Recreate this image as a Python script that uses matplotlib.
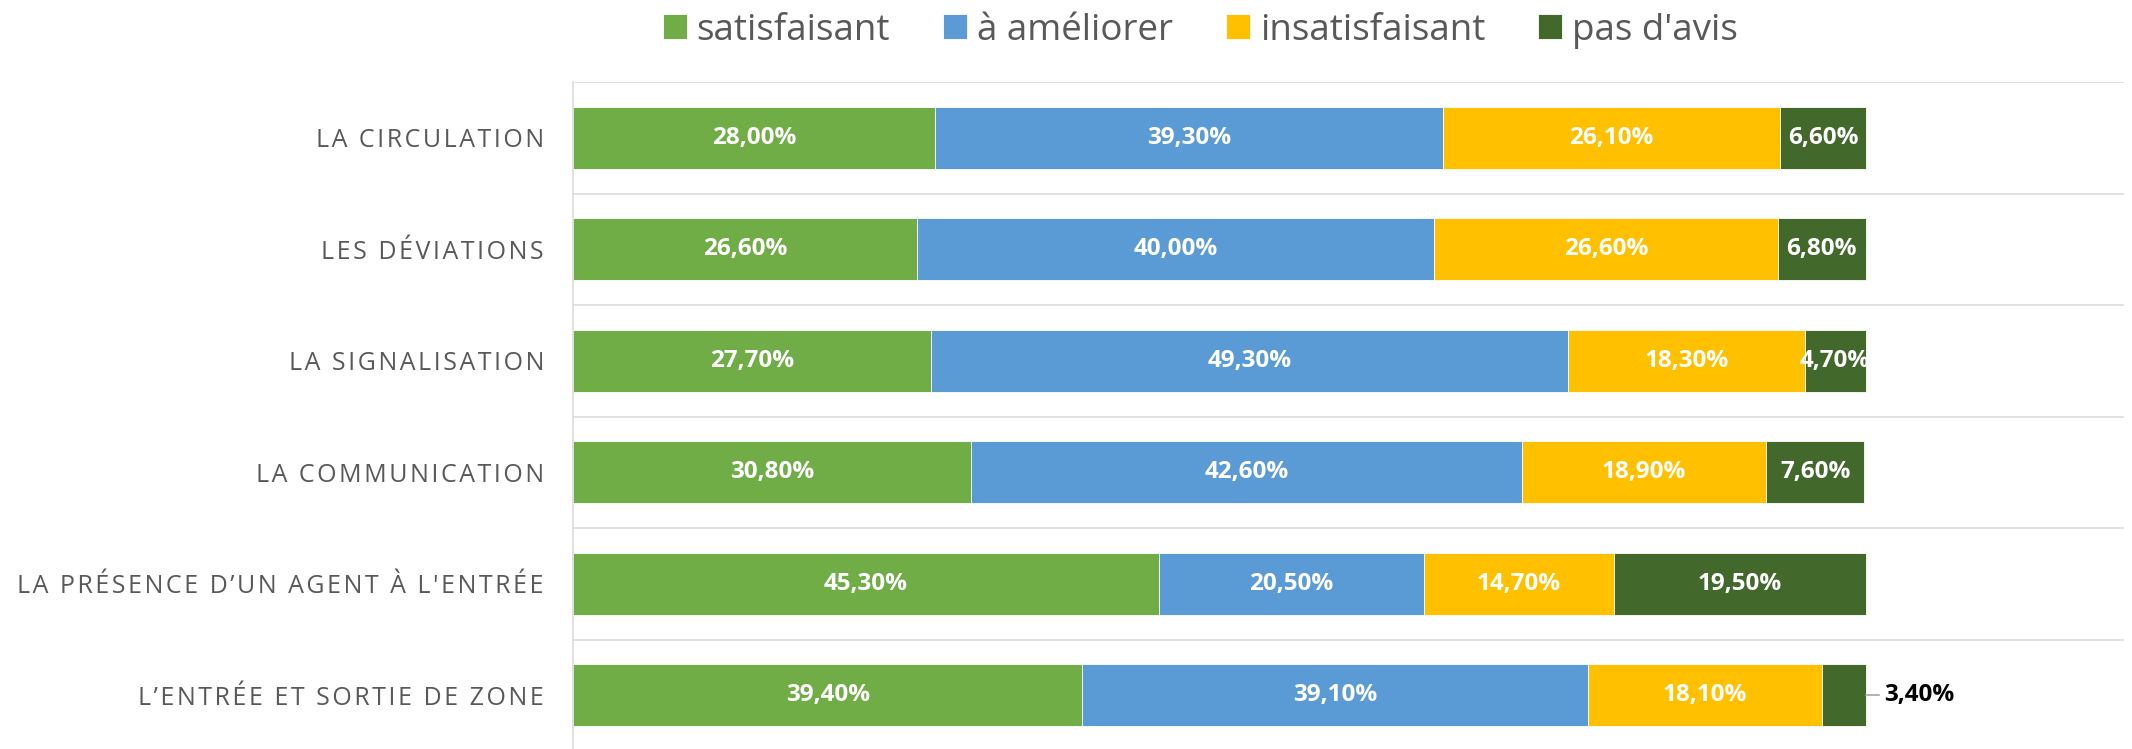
import matplotlib
matplotlib.use("Agg")
import matplotlib.pyplot as plt
import numpy as np

# survey answers, in percent, one list per answer type (top row first)
categories = ["LA CIRCULATION", "LES DÉVIATIONS", "LA SIGNALISATION",
              "LA COMMUNICATION", "LA PRÉSENCE D’UN AGENT À L'ENTRÉE",
              "L’ENTRÉE ET SORTIE DE ZONE"]
series_names = ["satisfaisant", "à améliorer", "insatisfaisant", "pas d'avis"]
satisfaisant = [28.0, 26.6, 27.7, 30.8, 45.3, 39.4]
a_ameliorer = [39.3, 40.0, 49.3, 42.6, 20.5, 39.1]
insatisfaisant = [26.1, 26.6, 18.3, 18.9, 14.7, 18.1]
pas_avis = [6.6, 6.8, 4.7, 7.6, 19.5, 3.4]

colors = ["#70AD47", "#5B9BD5", "#FFC000", "#43682B"]
GRID = "#D9D9D9"
TEXT = "#595959"

plt.rcParams['font.family'] = ['Open Sans', 'DejaVu Sans']


def spaced(s):
    # category labels are letter-spaced in the original
    return "\u200a".join(s)


fig = plt.figure(figsize=(21.32, 7.49), dpi=100)
ax = fig.add_axes([0.2688, -0.0027, 0.7275, 0.8932])

y = np.arange(len(categories))
left = np.zeros(len(categories))
handles = []
for name, vals, col in zip(series_names,
                           [satisfaisant, a_ameliorer, insatisfaisant, pas_avis],
                           colors):
    vals = np.array(vals)
    bars = ax.barh(y, vals, left=left, height=0.56, color=col,
                   edgecolor="white", linewidth=0.6, label=name)
    handles.append(bars)
    for yi, l, v in zip(y, left, vals):
        txt = f"{v:.2f}%".replace(".", ",")
        if v < 4:
            # too small: label outside with a leader line
            ax.plot([l + v, l + v + 1.0], [yi, yi], color="#A6A6A6", lw=1.2)
            ax.text(l + v + 1.45, yi, txt, ha="left", va="center",
                    color="black", fontsize=17.5, fontweight="bold")
        else:
            ax.text(l + v / 2, yi, txt, ha="center", va="center",
                    color="white", fontsize=17.5, fontweight="bold")
    left += vals

ax.set_xlim(0, 120)
ax.set_ylim(len(categories) - 0.5, -0.5)
ax.set_yticks(y)
ax.set_yticklabels([spaced(c) for c in categories], color=TEXT, fontsize=18)
ax.tick_params(axis="y", length=0, pad=21)
ax.set_xticks([])

# category boundary gridlines
for b in np.arange(-0.5, len(categories), 1.0):
    ax.axhline(b, color=GRID, lw=1.1, zorder=0)
for s in ["top", "right", "bottom"]:
    ax.spines[s].set_visible(False)
ax.spines["left"].set_color(GRID)
ax.spines["left"].set_linewidth(1.1)

fig.legend(handles=handles, labels=series_names, loc="center",
           bbox_to_anchor=(0.563, 0.959), ncol=4, frameon=False,
           fontsize=26.5, labelcolor=TEXT, handlelength=0.65, handleheight=0.65,
           handletextpad=0.27, columnspacing=1.44)

fig.savefig("out.png", dpi=100)
